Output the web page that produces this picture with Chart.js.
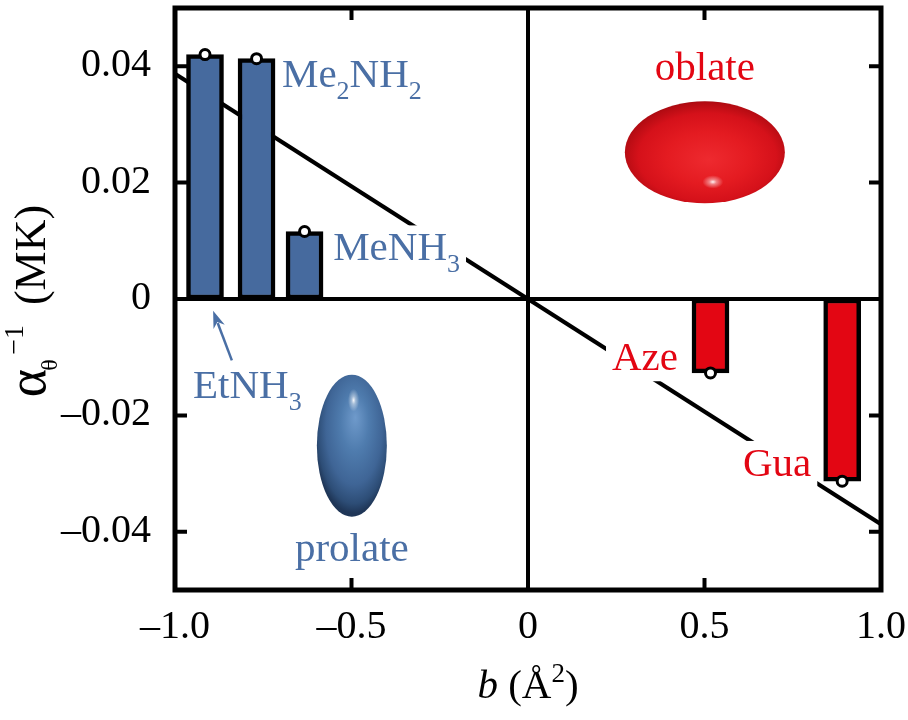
<!DOCTYPE html>
<html>
<head>
<meta charset="utf-8">
<script src="https://cdn.jsdelivr.net/npm/chart.js@4.4.1/dist/chart.umd.min.js"></script>
<style>
    html, body { margin: 0; padding: 0; background: #fff; }
    #wrap { width: 908px; height: 720px; }
    #probe { position: absolute; left: -2000px; top: 0; font-family: 'Liberation Serif'; font-size: 40px; }
</style>
</head>
<body>
<div id="probe">Me NH 0.04 <i>b</i> &#945;&#952;</div>
<div id="wrap"><canvas id="myChart" width="908" height="720"></canvas></div>
<script>
// b in A^2, inverse alpha in MK
const prolateB = [-0.915, -0.769, -0.633]
const prolateAlpha = [0.0420, 0.0413, 0.0116]
const oblateB = [0.517, 0.890]
const oblateAlpha = [-0.0127, -0.0313]

// the straight line through the origin
const fitB = [-1.0, 1.0]
const fitAlpha = [0.0387, -0.0387]

const xTicks = [-1.0, -0.5, 0, 0.5, 1.0]
const xTickLabels = ['\u20131.0', '\u20130.5', '0', '0.5', '1.0']
const yTicks = [0.04, 0.02, 0, -0.02, -0.04]
const yTickLabels = ['0.04', '0.02', '0', '\u20130.02', '\u20130.04']

const BLUE = '#4a6fa5'
const RED = '#e30613'
const SERIF = '"Liberation Serif", serif'
const LABEL_SIZE = 41

// text labels, placed in data coordinates (b, alpha)
const notes = [
    { parts: [['Me'], ['2', 1], ['NH'], ['2', 1]], b: -0.697, a: 0.0364, color: BLUE },
    { parts: [['MeNH'], ['3', 1]], b: -0.552, a: 0.00663, color: BLUE, box: true },
    { parts: [['EtNH'], ['3', 1]], b: -0.949, a: -0.0170, color: BLUE },
    { parts: [['prolate']], b: -0.499, a: -0.0451, color: BLUE, center: true },
    { parts: [['oblate']], b: 0.501, a: 0.0376, color: RED, center: true },
    { parts: [['Aze']], b: 0.238, a: -0.01224, color: RED, box: true },
    { parts: [['Gua']], b: 0.609, a: -0.0304, color: RED, box: true },
]
const arrowFrom = [-0.839, -0.01054]
const arrowTo = [-0.892, -0.00204]

function pts(xs, ys) {
    return xs.map((v, i) => ({ x: v, y: ys[i] }))
}

function drawParts(ctx, parts, x, y, center) {
    let w = 0
    parts.forEach(p => {
        ctx.font = (p[1] ? 26 : LABEL_SIZE) + 'px ' + SERIF
        w += ctx.measureText(p[0]).width
    })
    let cx = center ? x - w / 2 : x
    const left = cx
    parts.forEach(p => {
        ctx.font = (p[1] ? 26 : LABEL_SIZE) + 'px ' + SERIF
        ctx.fillText(p[0], cx, p[1] ? y + 12 : y)
        cx += ctx.measureText(p[0]).width
    })
    return { left: left, width: w }
}

// shaded ellipse: a broad body gradient plus a small specular spot
function drawEllipsoid(ctx, cx, cy, rx, ry, body, bodyStops, spot, spotR) {
    ctx.save()
    ctx.translate(cx, cy)
    ctx.scale(rx, ry)
    ctx.beginPath()
    ctx.arc(0, 0, 1, 0, Math.PI * 2)
    const g = ctx.createRadialGradient(body[0], body[1], 0, body[0] * 0.5, body[1] * 0.5, 1.15)
    bodyStops.forEach(s => g.addColorStop(s[0], s[1]))
    ctx.fillStyle = g
    ctx.fill()
    const h = ctx.createRadialGradient(spot[0], spot[1], 0, spot[0], spot[1], spotR)
    h.addColorStop(0, 'rgba(255,255,255,0.95)')
    h.addColorStop(0.35, 'rgba(255,255,255,0.45)')
    h.addColorStop(1, 'rgba(255,255,255,0)')
    ctx.fillStyle = h
    ctx.fill()
    ctx.restore()
}

const decor = {
    id: 'decor',
    beforeDatasetsDraw(chart) {
        const { ctx, chartArea: a, scales: { x, y } } = chart
        drawEllipsoid(ctx, x.getPixelForValue(-0.499), y.getPixelForValue(-0.0252), 35, 71,
            [0.1, -0.4], [[0, '#6f9acb'], [0.35, '#4f7cae'], [0.7, '#3f6596'], [0.9, '#2d4d76'], [1, '#1f3657']],
            [0.05, -0.64], 0.16)
        drawEllipsoid(ctx, x.getPixelForValue(0.501), y.getPixelForValue(0.0252), 80, 51,
            [0.05, 0.15], [[0, '#ee2a2f'], [0.45, '#e41b21'], [0.75, '#d5111a'], [0.92, '#b20b12'], [1, '#7e060a']],
            [0.1, 0.58], 0.13)
        ctx.save()
        ctx.strokeStyle = '#000'
        ctx.lineWidth = 4
        ctx.beginPath()
        ctx.moveTo(a.left, y.getPixelForValue(0))
        ctx.lineTo(a.right, y.getPixelForValue(0))
        ctx.moveTo(x.getPixelForValue(0), a.top)
        ctx.lineTo(x.getPixelForValue(0), a.bottom)
        ctx.stroke()
        ctx.restore()
    },
    afterDatasetsDraw(chart) {
        const { ctx, scales: { x, y } } = chart
        ctx.save()
        ctx.textBaseline = 'alphabetic'
        notes.forEach(n => {
            const px = x.getPixelForValue(n.b)
            const py = y.getPixelForValue(n.a)
            if (n.box) {
                ctx.globalAlpha = 0
                const m = drawParts(ctx, n.parts, px, py, n.center)
                ctx.globalAlpha = 1
                ctx.fillStyle = '#fff'
                ctx.fillRect(m.left - 6, py - 35, m.width + 12, 46)
            }
            ctx.fillStyle = n.color
            drawParts(ctx, n.parts, px, py, n.center)
        })
        // arrow to EtNH3 bar
        const x0 = x.getPixelForValue(arrowFrom[0]), y0 = y.getPixelForValue(arrowFrom[1])
        const x1 = x.getPixelForValue(arrowTo[0]), y1 = y.getPixelForValue(arrowTo[1])
        const ang = Math.atan2(y1 - y0, x1 - x0)
        const hl = 17, hw = 6
        const bx = x1 - hl * Math.cos(ang), by = y1 - hl * Math.sin(ang)
        ctx.strokeStyle = BLUE
        ctx.fillStyle = BLUE
        ctx.lineWidth = 2.5
        ctx.beginPath()
        ctx.moveTo(x0, y0)
        ctx.lineTo(bx + 4 * Math.cos(ang), by + 4 * Math.sin(ang))
        ctx.stroke()
        ctx.beginPath()
        ctx.moveTo(x1, y1)
        ctx.lineTo(bx - hw * Math.sin(ang), by + hw * Math.cos(ang))
        ctx.lineTo(bx + 5 * Math.cos(ang), by + 5 * Math.sin(ang))
        ctx.lineTo(bx + hw * Math.sin(ang), by - hw * Math.cos(ang))
        ctx.closePath()
        ctx.fill()
        ctx.restore()
    },
    afterDraw(chart) {
        const { ctx, chartArea: a, scales: { x, y } } = chart
        ctx.save()
        ctx.strokeStyle = '#000'
        ctx.lineWidth = 5
        ctx.strokeRect(a.left, a.top, a.right - a.left, a.bottom - a.top)
        // inward ticks on all four sides
        const tl = 12
        ctx.lineWidth = 4
        ctx.beginPath()
        xTicks.forEach(v => {
            const px = x.getPixelForValue(v)
            ctx.moveTo(px, a.bottom); ctx.lineTo(px, a.bottom - tl)
            ctx.moveTo(px, a.top); ctx.lineTo(px, a.top + tl)
        })
        yTicks.forEach(v => {
            const py = y.getPixelForValue(v)
            ctx.moveTo(a.left, py); ctx.lineTo(a.left + tl, py)
            ctx.moveTo(a.right, py); ctx.lineTo(a.right - tl, py)
        })
        ctx.stroke()

        ctx.fillStyle = '#000'
        ctx.font = '40px ' + SERIF
        ctx.textBaseline = 'alphabetic'
        ctx.textAlign = 'center'
        xTicks.forEach((v, i) => {
            ctx.fillText(xTickLabels[i], x.getPixelForValue(v), a.bottom + 48)
        })
        ctx.textAlign = 'right'
        yTicks.forEach((v, i) => {
            ctx.fillText(yTickLabels[i], a.left - 24, y.getPixelForValue(v) + 10)
        })

        // x title: b (A^2)
        ctx.textAlign = 'left'
        const xParts = [['b', 'italic 41px '], [' (\u00c5', '41px '], ['2', '27px ', -16], [')', '41px ']]
        let w = 0
        xParts.forEach(p => { ctx.font = p[1] + SERIF; w += ctx.measureText(p[0]).width })
        let cx = x.getPixelForValue(0) - w / 2
        xParts.forEach(p => {
            ctx.font = p[1] + SERIF
            ctx.fillText(p[0], cx, a.bottom + 108 + (p[2] || 0))
            cx += ctx.measureText(p[0]).width
        })

        // y title: alpha_theta^-1 (MK)
        ctx.font = '54px ' + SERIF
        const wA = ctx.measureText('\u03b1').width
        ctx.font = '28px ' + SERIF
        const wS = ctx.measureText('\u22121').width
        ctx.font = '44px ' + SERIF
        const wM = ctx.measureText('(MK)').width
        const total = wA + 16 + wS + 18 + wM
        ctx.translate(45, y.getPixelForValue(0) + 2 + total / 2)
        ctx.rotate(-Math.PI / 2)
        ctx.font = '54px ' + SERIF
        ctx.fillText('\u03b1', 0, 0)
        ctx.font = '24px ' + SERIF
        ctx.fillText('\u03b8', wA - 2, 12)
        ctx.font = '28px ' + SERIF
        ctx.fillText('\u22121', wA + 14, -22)
        ctx.font = '44px ' + SERIF
        ctx.fillText('(MK)', wA + 16 + wS + 18, 0)
        ctx.restore()
    }
}

const config = {
    type: 'bar',
    data: {
        datasets: [
            {
                type: 'line',
                data: pts(fitB, fitAlpha),
                borderColor: '#000',
                borderWidth: 4,
                pointRadius: 0,
                order: 3
            },
            {
                label: 'prolate',
                data: pts(prolateB, prolateAlpha),
                backgroundColor: '#466a9e',
                borderColor: '#000',
                borderWidth: 4.5,
                borderSkipped: false,
                order: 2
            },
            {
                label: 'oblate',
                data: pts(oblateB, oblateAlpha),
                backgroundColor: '#e30613',
                borderColor: '#000',
                borderWidth: 4.5,
                borderSkipped: false,
                order: 2
            },
            {
                type: 'line',
                showLine: false,
                data: pts(prolateB.concat(oblateB), prolateAlpha.concat(oblateAlpha)),
                pointRadius: 5,
                pointBorderWidth: 3,
                pointBackgroundColor: '#fff',
                pointBorderColor: '#000',
                order: 0
            }
        ]
    },
    options: {
        responsive: false,
        animation: false,
        datasets: {
            bar: {
                grouped: false,
                barPercentage: 1,
                categoryPercentage: 1,
                maxBarThickness: 37
            }
        },
        layout: { padding: { top: 2, right: 27, left: 0, bottom: 0 } },
        scales: {
            x: {
                type: 'linear',
                offset: false,
                min: -1,
                max: 1,
                grid: { display: false },
                border: { display: false },
                ticks: { display: false },
                afterFit: s => { s.height = 130 }
            },
            y: {
                type: 'linear',
                min: -0.05,
                max: 0.05,
                grid: { display: false },
                border: { display: false },
                ticks: { display: false },
                afterFit: s => { s.width = 175 }
            }
        },
        plugins: {
            legend: { display: false },
            tooltip: { enabled: false }
        }
    },
    plugins: [decor]
}

function start() {
    new Chart(document.getElementById('myChart'), config)
}

if (document.fonts && document.fonts.load) {
    Promise.all([
        document.fonts.load('40px "Liberation Serif"'),
        document.fonts.load('italic 40px "Liberation Serif"')
    ]).then(start, start)
} else {
    start()
}
</script>
</body>
</html>
